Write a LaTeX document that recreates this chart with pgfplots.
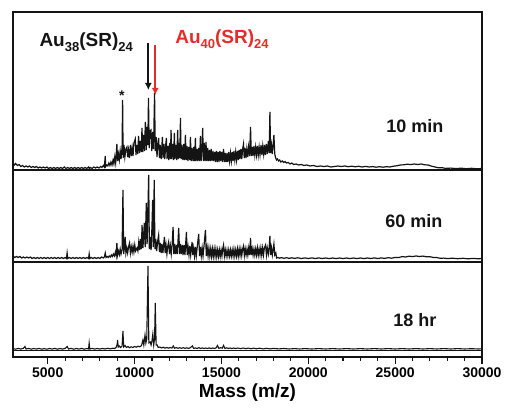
\documentclass[border=0pt]{standalone}
\usepackage{pgfplots}
\pgfplotsset{compat=1.18}
\usetikzlibrary{arrows.meta}
\usepackage{fontspec}
\setmainfont{Liberation Sans}
\definecolor{myred}{RGB}{228,45,40}
\definecolor{ink}{RGB}{20,20,20}
\newcommand{\sub}[1]{\raisebox{-0.28em}{\fontsize{13}{13}\selectfont #1}}
\begin{document}
\begin{tikzpicture}
\begin{axis}[
  scale only axis, width=469pt, height=345pt,
  xmin=3000, xmax=30000, ymin=0, ymax=345,
  ytick=\empty,
  xtick={5000,10000,15000,20000,25000,30000},
  minor x tick num=4,
  xtick pos=left,
  tick align=outside,
  major tick length=7pt, minor tick length=4pt,
  axis line style={line width=1.3pt, ink},
  every tick/.style={line width=1.1pt, ink},
  scaled x ticks=false,
  /pgf/number format/assume math mode=true,
  xticklabel style={font=\fontsize{14}{16}\selectfont\bfseries, /pgf/number format/1000 sep={}},
  xlabel={Mass (m/z)},
  xlabel style={font=\fontsize{19}{22}\selectfont\bfseries, yshift=1pt},
]
% separators
\addplot[ink, line width=1.3pt] coordinates {(3000,187) (30000,187)};
\addplot[ink, line width=1.3pt] coordinates {(3000,95) (30000,95)};
\addplot[ink, line width=1.1pt] coordinates {(3000,6.3) (30000,6.3)};
% 10 min
\addplot[ink, line width=1.2pt] coordinates {
(3000,194) (3080,192) (3150,193.5) (3250,191.5) (3350,192.5) (3450,190.5) (3550,191.5) (3650,190) (3750,191) (3850,190) (3950,191) (4050,189.5) (4150,190.5) (4250,189.5) (4350,190.5) (4450,189) (4550,190) (4650,189) (4750,190) (4850,189) (4950,190) (5050,188.5) (5150,189.5) (5250,188.5) (5350,189.5) (5450,188.5) (5550,189.5) (5650,188.5) (5750,189.5) (5850,188.5) (5950,190) (6050,188.5) (6150,189.5) (6250,188.5) (6350,189.5) (6450,188.5) (6550,189.5) (6650,188.5) (6750,189.5) (6850,188.5) (6950,189.5) (7050,188.5) (7150,189.5) (7250,188.5) (7350,190) (7400,188.5) (7450,189.5) (7550,188.5) (7650,190) (7750,189) (7850,190) (7950,189)
(8050,190.5) (8120,189.5) (8200,191.5) (8260,190) (8310,201) (8340,190.5) (8400,192) (8460,191) (8520,194) (8580,191.5) (8640,195) (8700,192)
(8760,197) (8810,193) (8860,200) (8910,194) (8980,213) (9020,196) (9070,203) (9120,197) (9170,206) (9220,198) (9280,210) (9310,257) (9340,199) (9390,212) (9440,200) (9500,208) (9560,210) (9600,200) (9650,207) (9700,199) (9760,212) (9810,201) (9860,209) (9910,201) (9960,214) (10040,218) (10080,202) (10130,212) (10180,203) (10230,221) (10280,204) (10330,216) (10380,205) (10425,229) (10470,205) (10520,222) (10570,206) (10620,235) (10670,207) (10720,230) (10760,212) (10800,259) (10840,209) (10890,226) (10945,227) (10990,206) (11040,225) (11090,208) (11150,264) (11190,206) (11240,220) (11290,200) (11340,214) (11385,219) (11430,199) (11480,212) (11530,198) (11600,220) (11640,199) (11690,213) (11740,198) (11790,212) (11830,219) (11870,198) (11920,211) (11970,197) (12020,214) (12060,198) (12100,227) (12140,198) (12190,213) (12240,197) (12290,224) (12330,198) (12380,212) (12430,197) (12480,227) (12520,198) (12570,214) (12600,199) (12640,239) (12680,198) (12730,212) (12780,197) (12830,213) (12880,197) (12925,222) (12970,197) (13020,211) (13070,196) (13120,210) (13170,197) (13215,220) (13260,196) (13310,209) (13360,196) (13410,210) (13450,196) (13500,219) (13540,196) (13590,208) (13640,196) (13690,209) (13740,196) (13790,221) (13830,196) (13880,210) (13920,229) (13960,196) (14010,214) (14060,196) (14110,215) (14160,196) (14210,209) (14260,196) (14310,207) (14360,196) (14410,208) (14460,196) (14510,206) (14560,196) (14610,205) (14660,195) (14710,206) (14760,195) (14810,205) (14860,195) (14910,206) (14960,196) (15010,205) (15060,195) (15120,208) (15170,195) (15220,204) (15270,195) (15320,204) (15370,195) (15420,205) (15470,196) (15520,204) (15570,196) (15620,205) (15670,196) (15720,206) (15770,197) (15820,205) (15870,197) (15920,206) (15970,197) (16020,207) (16070,198) (16120,208) (16170,198) (16220,208) (16270,213) (16310,199) (16360,209) (16410,199) (16460,208) (16510,200) (16560,210) (16620,201) (16675,230) (16720,201) (16770,210) (16820,201) (16870,211) (16920,202) (16970,210) (17020,202) (17070,211) (17120,202) (17170,210) (17220,202) (17280,212) (17330,202) (17380,211) (17430,203) (17480,212) (17530,202) (17580,213) (17640,203) (17700,216) (17750,204) (17790,245) (17830,204) (17880,212) (17930,203) (17980,213) (18020,222) (18070,203) (18120,199) (18170,197) (18230,198) (18290,196) (18350,197) (18420,195) (18500,196) (18580,194.5) (18660,195.5) (18750,194) (18850,194.5) (18950,193) (19050,194) (19150,192.5) (19300,193) (19450,192) (19600,192.5) (19750,191.5) (19900,192) (20100,191) (20300,191.5) (20500,190.5) (20700,191) (20900,190.5) (21100,191) (21300,190) (21500,190.5)
(21700,191) (21900,190.5) (22100,191) (22300,190.3) (22500,190.8) (22700,190.2) (22900,190.7) (23100,190) (23300,190.6) (23500,190) (23700,190.4) (23900,189.8) (24100,190.3) (24300,189.8) (24500,190.3) (24700,190) (24900,190.8) (25100,191.2) (25300,192) (25500,192.2) (25700,192.8) (25900,192.4) (26100,193) (26300,192.5) (26500,193) (26700,192.2) (26900,192) (27100,190.8) (27300,190) (27500,189.2) (27700,189.3) (27900,188.6) (28200,188.9) (28500,188.4) (28800,188.8) (29100,188.3) (29400,188.7) (29700,188.2) (30000,188.5)
};
% 60 min
\addplot[ink, line width=1.2pt] coordinates {
(3000,101) (3100,99.5) (3200,100.5) (3300,99.5) (3400,100.5) (3500,99) (3600,100) (3700,99) (3800,100) (3900,99) (4000,100) (4100,98.5) (4200,99.5) (4300,98.5) (4400,99.5) (4500,98.5) (4600,99.5) (4700,98.5) (4800,99.5) (4900,98.5) (5000,99.5) (5100,98.5) (5200,99.5) (5300,98.5) (5400,99.5) (5500,98.5) (5600,99.5) (5700,98.5) (5800,99.5) (5900,98.5) (6000,99.5) (6080,98.5) (6115,104) (6150,98.5) (6250,99.5) (6350,98.5) (6450,99.5) (6550,98.5) (6650,99.5) (6750,98.5) (6850,99.5) (6950,98.5) (7050,99.5) (7150,98.5) (7250,99.5) (7350,98.5) (7385,103) (7420,98.5) (7500,99.5) (7600,98.5) (7700,99.5) (7800,98.5) (7900,99.5) (8000,98.5) (8100,100) (8200,99) (8260,100) (8310,104) (8360,99.5) (8420,100.5) (8480,99.5) (8540,101) (8600,100) (8660,102) (8720,100.5) (8780,103) (8840,101) (8900,105) (8940,101.5) (8980,114) (9020,102) (9070,106) (9120,102.5) (9170,108) (9220,103) (9280,107) (9330,167) (9370,103) (9420,110) (9460,120) (9500,104) (9550,109) (9600,104) (9650,110) (9710,114) (9760,104) (9810,110) (9860,105) (9910,111) (9960,105) (10010,112) (10060,106) (10140,109) (10190,106) (10240,115) (10290,107) (10340,118) (10390,108) (10430,132) (10480,109) (10560,134) (10610,110) (10675,154) (10720,113) (10760,140) (10810,182) (10850,108) (10900,120) (10950,107) (11000,130) (11040,157) (11080,110) (11130,177) (11170,108) (11220,118) (11270,106) (11330,116) (11385,122) (11430,105) (11480,114) (11530,104) (11580,113) (11630,104) (11715,120) (11760,104) (11810,112) (11860,103) (11910,111) (11960,115) (12010,103) (12060,111) (12110,103) (12160,112) (12215,130) (12260,103) (12310,113) (12360,103) (12410,112) (12460,103) (12540,129) (12590,103) (12640,113) (12690,103) (12740,112) (12790,102) (12840,112) (12900,102) (12985,125) (13030,102) (13080,110) (13130,102) (13180,111) (13230,102) (13310,115) (13350,102) (13400,109) (13450,101) (13500,110) (13550,101) (13600,109) (13690,123) (13740,101) (13790,110) (13840,101) (13890,109) (13940,101) (13990,110) (14080,127) (14130,101) (14180,109) (14230,101) (14280,109) (14330,101) (14380,108) (14430,100.5) (14480,108) (14530,100.5) (14580,108)
(14630,100.5) (14680,108) (14730,100.5) (14780,107) (14830,100.5) (14880,107) (14930,100.5) (14980,107) (15030,101) (15070,108) (15120,112) (15170,101) (15220,107) (15270,101) (15320,107) (15370,101) (15420,107) (15470,101) (15520,107) (15570,101) (15620,107) (15670,101) (15720,108) (15770,101) (15820,107) (15870,101) (15920,108) (15970,101) (16020,108) (16070,101.5) (16120,108) (16170,101.5) (16220,108) (16270,111) (16320,101.5) (16370,108) (16420,102) (16470,108) (16520,102) (16570,109) (16620,102) (16675,119) (16720,102) (16770,108) (16820,102) (16870,108) (16920,102) (16970,108) (17020,102) (17070,109) (17120,102) (17170,108) (17220,102) (17270,109) (17320,102) (17370,109) (17420,102) (17470,109) (17540,112) (17590,102) (17640,109) (17700,103) (17750,110) (17790,121) (17830,102) (17880,109) (17930,102) (17980,108) (18020,113) (18070,102) (18130,104) (18175,99)
(18250,99.5) (18350,98.8) (18450,99.4) (18600,98.7) (18750,99.3) (18900,98.6) (19050,99.2) (19200,98.6) (19400,99.2) (19600,98.5) (19800,99.1) (20000,98.5) (20200,99.1) (20400,98.5) (20600,99.1) (20800,98.5) (21000,99) (21200,98.4) (21400,99) (21600,98.4) (21800,99) (22000,98.4) (22200,99) (22400,98.4) (22600,99) (22800,98.4) (23000,99) (23200,98.4) (23400,99) (23600,98.5) (23800,99.1) (24000,98.5) (24200,99.1) (24400,98.6) (24600,99.3) (24800,98.8) (25000,99.6) (25200,99.4) (25400,100.4) (25600,100) (25800,100.8) (26000,100.4) (26200,101) (26400,100.5) (26600,100.9) (26800,100.2) (27000,100.3) (27200,99.5) (27400,99.4) (27600,98.7) (27800,98.9) (28000,98.4) (28300,98.8) (28600,98.3) (28900,98.7) (29200,98.2) (29500,98.6) (29800,98.2) (30000,98.5)
};
% 18 hr
\addplot[ink, line width=1.1pt] coordinates {
(3000,8.5) (3150,7.8) (3300,8.6) (3450,7.9) (3600,8.7) (3690,10.5) (3750,8) (3900,8.6) (4050,7.8) (4200,8.5) (4350,7.9) (4500,8.6) (4650,7.8) (4800,8.4) (4950,7.8) (5100,8.5) (5250,7.9) (5400,8.6) (5550,7.8) (5700,8.5) (5850,7.9) (6000,8.6) (6115,10.5) (6200,8) (6350,8.6) (6500,7.8) (6650,8.5) (6800,7.9) (6950,8.6) (7100,7.8) (7250,8.5) (7350,8) (7385,14) (7420,8) (7550,8.6) (7700,7.9) (7850,8.5) (8000,7.9) (8150,8.6) (8300,8) (8450,8.7) (8600,8.1) (8750,8.8) (8850,8.4) (8950,10) (9000,13) (9020,17) (9060,10) (9120,11) (9200,9.5) (9280,11) (9330,26) (9370,10) (9450,11.5) (9530,9.5) (9620,10.5) (9700,9.2) (9800,10.2) (9900,9.5) (10000,10.5) (10100,9.8) (10200,10.8) (10300,10.2) (10400,11.5) (10480,17) (10530,12) (10600,22) (10650,14) (10700,18) (10770,91) (10820,14) (10900,15) (10950,12) (11000,16) (11050,23) (11100,12) (11150,18) (11190,54) (11240,12) (11300,12) (11360,9.5) (11450,10) (11550,9) (11650,9.8) (11750,8.8) (11850,9.5) (11950,8.8) (12050,9.5) (12150,8.9) (12230,11) (12300,8.8) (12400,9.4) (12500,8.7) (12600,9.3) (12700,8.7) (12800,9.3) (12900,8.6) (13000,9.2) (13100,8.6) (13200,9.2) (13330,11) (13400,8.6) (13500,9.1) (13600,8.5) (13700,9.4) (13800,8.5) (13900,9.1) (14000,8.5) (14100,9) (14200,8.5) (14300,9.1) (14400,8.4) (14500,9) (14600,8.5) (14700,9.2) (14770,11.5) (14850,8.6) (14950,9.3) (15050,8.8) (15120,11.5) (15200,8.6) (15300,9.2) (15400,8.5) (15500,9) (15600,8.4) (15700,9) (15800,8.4) (15950,9) (16100,8.3) (16250,9) (16400,8.3) (16550,8.9) (16700,8.2) (16850,8.9) (17000,8.2) (17200,8.8) (17400,8.1) (17600,8.7) (17800,8.1) (18000,8.6)
(18300,8.1) (18600,8.5) (18900,8.0) (19200,8.4) (19500,8.0) (19800,8.4) (20200,8.0) (20600,8.4) (21000,8.0) (21400,8.4) (21800,8.0) (22200,8.4) (22600,8.0) (23000,8.4) (23400,8.0) (23800,8.4) (24200,8.0) (24600,8.4) (25000,8.0) (25400,8.4) (25800,8.0) (26200,8.4) (26600,8.0) (27000,8.4) (27400,8.0) (27800,8.4) (28200,8.0) (28600,8.4) (29000,8.0) (29400,8.3) (29800,8.0) (30000,8.2)
};
% annotations
\draw[ink, line width=2.2pt, -{Latex[length=7pt,width=7pt]}] (axis cs:10790,314) -- (axis cs:10790,267);
\draw[myred, line width=2.2pt, -{Latex[length=7pt,width=7pt]}] (axis cs:11190,312) -- (axis cs:11190,262);
\node[ink, font=\fontsize{19}{22}\selectfont\bfseries] at (axis cs:7212,315) {Au\sub{38}(SR)\sub{24}};
\node[myred, font=\fontsize{19}{22}\selectfont\bfseries] at (axis cs:15030,318) {Au\sub{40}(SR)\sub{24}};
\node[ink, font=\fontsize{14}{16}\selectfont\bfseries] at (axis cs:9270,261) {*};
\node[ink, font=\fontsize{18}{21}\selectfont\bfseries] at (axis cs:26140,231) {10 min};
\node[ink, font=\fontsize{18}{21}\selectfont\bfseries] at (axis cs:26080,136) {60 min};
\node[ink, font=\fontsize{18}{21}\selectfont\bfseries] at (axis cs:26140,37) {18 hr};
\end{axis}
\path (-13pt,-54pt) rectangle (496pt,357pt);
\end{tikzpicture}
\end{document}
